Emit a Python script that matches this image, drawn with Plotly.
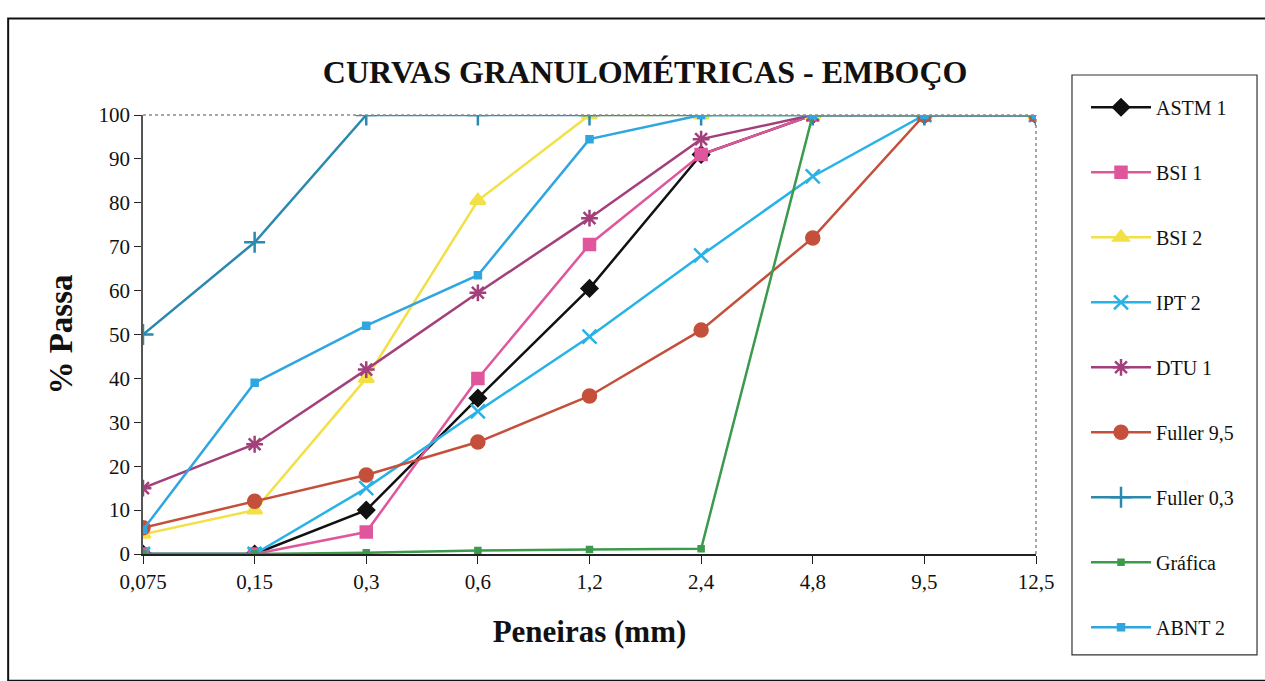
import plotly.graph_objects as go

# Sieve openings (mm) and percentage passing for each grading curve
peneiras = ["0,075", "0,15", "0,3", "0,6", "1,2", "2,4", "4,8", "9,5", "12,5"]

astm_1 = [0, 0, 10, 35.5, 60.5, 91, 100, 100, 100]
bsi_1 = [0, 0, 5, 40, 70.5, 91, 100, 100, 100]
bsi_2 = [4.5, 10, 40, 80.5, 100, 100, 100, 100, 100]
ipt_2 = [0, 0, 15, 32.5, 49.5, 68, 86, 100, 100]
dtu_1 = [15, 25, 42, 59.5, 76.5, 94.5, 100, 100, 100]
fuller_95 = [6, 12, 18, 25.5, 36, 51, 72, 100, 100]
fuller_03 = [50, 71, 100, 100, 100, 100, 100, 100, 100]
grafica = [0, 0, 0.3, 0.8, 1, 1.2, 100, 100, 100]
abnt_2 = [5.5, 39, 52, 63.5, 94.5, 100, 100, 100, 100]

yticks = [0, 10, 20, 30, 40, 50, 60, 70, 80, 90, 100]

FONT = "Liberation Serif"

series = [
    ("ASTM 1", astm_1, "#111111", "diamond", 12),
    ("BSI 1", bsi_1, "#e0569c", "square", 11),
    ("BSI 2", bsi_2, "#f2e046", "triangle-up", 13),
    ("IPT 2", ipt_2, "#27b2e8", "x-thin-open", 14),
    ("DTU 1", dtu_1, "#a3407c", "asterisk-open", 14),
    ("Fuller 9,5", fuller_95, "#c4503c", "circle", 13),
    ("Fuller 0,3", fuller_03, "#2a89ad", "cross-thin-open", 15),
    ("Gráfica", grafica, "#3b9a4c", "square", 5),
    ("ABNT 2", abnt_2, "#2fa6e0", "square", 6),
]

fig = go.Figure()
for i, (name, vals, color, symbol, size) in enumerate(series):
    fig.add_trace(go.Scatter(
        x=peneiras, y=vals, name=name, mode="lines+markers",
        legendgroup=f"g{i}",
        line=dict(color=color, width=2.5),
        marker=dict(symbol=symbol, size=size, color=color,
                    line=dict(color=color, width=2.5)),
    ))

fig.update_layout(
    width=1265, height=681,
    paper_bgcolor="white", plot_bgcolor="white",
    margin=dict(l=143, r=229, t=115, b=127),
    font=dict(family=FONT, size=21, color="#111111"),
    title=dict(text="<b>CURVAS GRANULOMÉTRICAS - EMBOÇO</b>",
               x=0.51, xanchor="center", y=0.894, yanchor="middle",
               font=dict(family=FONT, size=32, color="#111111")),
    xaxis=dict(type="category", range=[0, 8], showgrid=False,
               showline=True, linecolor="#222222", linewidth=1.5,
               mirror=False, ticks="outside", ticklen=8, tickcolor="#222222",
               tickfont=dict(size=21),
               title=dict(text="<b>Peneiras (mm)</b>", standoff=27,
                          font=dict(family=FONT, size=31))),
    yaxis=dict(range=[0, 100], tickvals=yticks, showgrid=False,
               showline=True, linecolor="#555555", linewidth=1.5,
               ticks="outside", ticklen=7, tickcolor="#222222",
               tickfont=dict(size=21), zeroline=False,
               title=dict(text="<b>% Passa</b>", standoff=16,
                          font=dict(family=FONT, size=33))),
    legend=dict(x=1.056, xanchor="left", y=1.062, yanchor="top",
                borderwidth=0, bgcolor="rgba(0,0,0,0)",
                font=dict(family=FONT, size=20, color="#111111"),
                tracegroupgap=36, itemwidth=60, maxheight=640),
    showlegend=True,
)

# dotted frame along the top and right of the plotting area
fig.add_shape(type="line", xref="paper", yref="paper", x0=0, x1=1, y0=1, y1=1,
              line=dict(color="#8a8a8a", width=1.5, dash="dot"))
fig.add_shape(type="line", xref="paper", yref="paper", x0=1, x1=1, y0=0, y1=1,
              line=dict(color="#8a8a8a", width=1.5, dash="dot"))

# legend box
fig.add_shape(type="rect", xref="paper", yref="paper",
              x0=1.0403, x1=1.2475, y0=-0.230, y1=1.0911,
              line=dict(color="#333333", width=1.2))

# outer border around the whole chart
fig.add_shape(type="rect", xref="paper", yref="paper",
              x0=-0.151, x1=1.27, y0=-0.289, y1=1.22,
              line=dict(color="#111111", width=2))

fig.write_html("out.html")
